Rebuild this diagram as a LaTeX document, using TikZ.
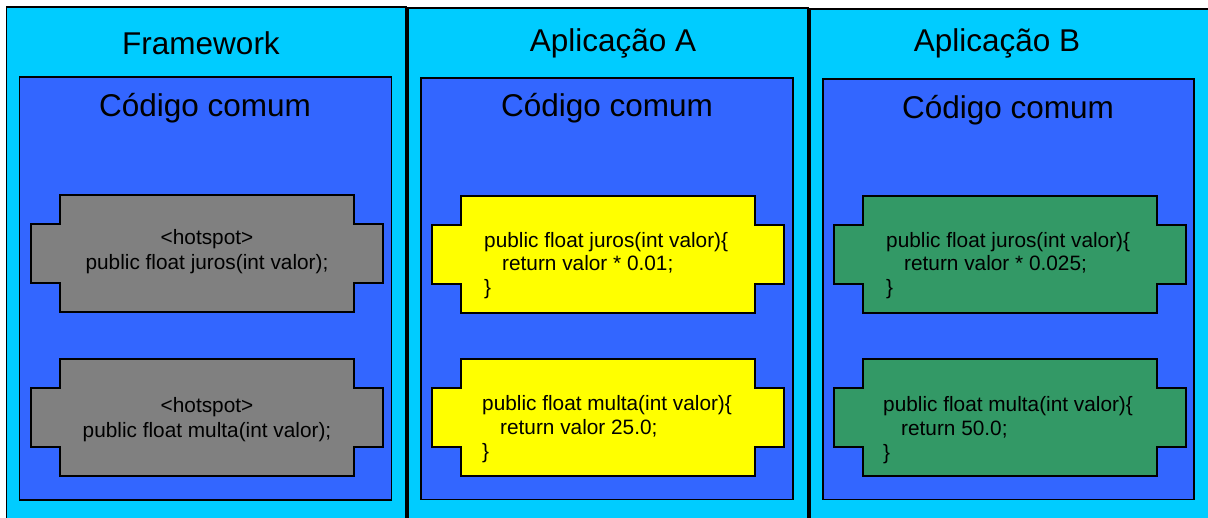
\documentclass[tikz,border=0pt]{standalone}
\usepackage{fontspec}
\setmainfont{Liberation Sans}

\definecolor{panelcyan}{HTML}{00CCFF}
\definecolor{codeblue}{HTML}{3366FF}
\definecolor{hotgray}{HTML}{808080}
\definecolor{impyellow}{HTML}{FFFF00}
\definecolor{impgreen}{HTML}{339966}

\tikzset{
  panel/.style={draw=black, line width=1.3pt, fill=panelcyan},
  common/.style={draw=black, line width=1.5pt, fill=codeblue},
  shapeline/.style={draw=black, line width=1.8pt, line join=miter},
  title/.style={inner sep=0pt, font=\fontsize{31.5}{36}\selectfont},
  hottext/.style={inner sep=0pt, align=center, font=\fontsize{20.8}{24.5}\selectfont},
  codetext/.style={inner sep=0pt, anchor=west, align=left, font=\fontsize{20.8}{23.8}\selectfont},
}

% cross-shaped box: fill colour, left x, top y (352 x 117, notches of 29)
\newcommand\slotbox[3]{%
  \path[shapeline, fill=#1] (#2,#3) ++(29,0) -- ++(294,0) -- ++(0,29) -- ++(29,0)
    -- ++(0,59) -- ++(-29,0) -- ++(0,29) -- ++(-294,0) -- ++(0,-29) -- ++(-29,0)
    -- ++(0,-59) -- ++(29,0) -- cycle;}

\begin{document}
\begin{tikzpicture}[x=1pt, y=-1pt]
  \path[use as bounding box, fill=white] (0,0) rectangle (1208,517);
  \clip (0,0) rectangle (1208,517);

  % outer panels
  \path[panel] (6.5,7) rectangle (406,530);
  \path[panel] (408,8) rectangle (808,530);
  \path[panel] (810,9) rectangle (1222,530);

  % common code areas
  \path[common] (19.5,77) rectangle (391.5,500);
  \path[common] (421,78) rectangle (793,499.5);
  \path[common] (823,79) rectangle (1194,499.5);

  % titles
  \node[title] (t1) at (201,43) {Framework};
  \node[title] (t2) at (613,43) {Aplicação A};
  \node[title] (t3) at (997,43.5) {Aplicação B};
  \node[title] (c1) at (205,108) {Código comum};
  \node[title] (c2) at (607,108) {Código comum};
  \node[title] (c3) at (1008,110) {Código comum};

  % framework hot spots
  \slotbox{hotgray}{31}{195}
  \slotbox{hotgray}{31}{359}
  \node[hottext] (h1) at (207,251.5) {<hotspot>\\public float juros(int valor);};
  \node[hottext] (h2) at (207,419.5) {<hotspot>\\public float multa(int valor);};

  % application A
  \slotbox{impyellow}{432}{196}
  \slotbox{impyellow}{432}{359}
  \node[codetext] (a1) at (484,265.5) {public float juros(int valor)\{\\\hspace*{18pt}return valor * 0.01;\\\}};
  \node[codetext] (a2) at (482,429) {public float multa(int valor)\{\\\hspace*{18pt}return valor 25.0;\\\}};

  % application B
  \slotbox{impgreen}{834}{196}
  \slotbox{impgreen}{834}{359}
  \node[codetext] (b1) at (886,265.5) {public float juros(int valor)\{\\\hspace*{18pt}return valor * 0.025;\\\}};
  \node[codetext] (b2) at (883,430) {public float multa(int valor)\{\\\hspace*{18pt}return 50.0;\\\}};
\end{tikzpicture}
\end{document}
